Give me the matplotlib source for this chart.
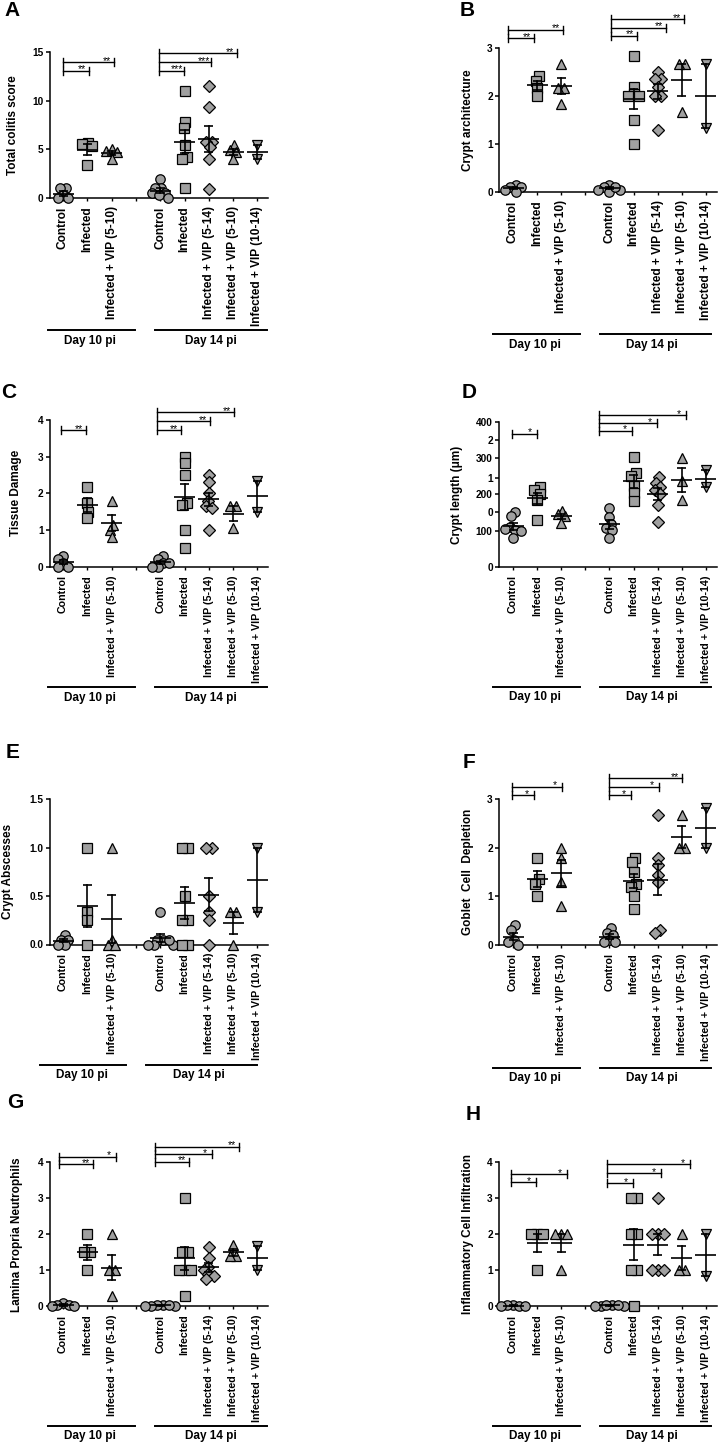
import numpy as np
import matplotlib
matplotlib.use("Agg")
import matplotlib.pyplot as plt
from matplotlib.lines import Line2D

plt.rcParams['font.family'] = ['Liberation Sans', 'DejaVu Sans']
plt.rcParams['font.weight'] = 'bold'

# ---------------- data ----------------
categories = ["Control", "Infected", "Infected + VIP (5-10)", "",
              "Control", "Infected", "Infected + VIP (5-14)",
              "Infected + VIP (5-10)", "Infected + VIP (10-14)"]
day_labels = ["Day 10 pi", "Day 14 pi"]
group_positions = [0, 1, 2, 4, 5, 6, 7, 8]
group_markers = ["o", "s", "^", "o", "s", "D", "^", "v"]

# A  Total colitis score
colitis_score = [
    [1.0, 1.0, 0.3, 0.0, 0.0],
    [5.7, 5.5, 5.3, 3.4],
    [5.0, 4.8, 4.7, 4.0],
    [2.0, 1.0, 1.0, 0.5, 0.5, 0.3, 0.0],
    [11.0, 7.8, 7.2, 5.4, 4.2, 4.0, 1.0],
    [11.5, 9.3, 5.8, 5.8, 5.2, 4.0, 0.9],
    [5.4, 4.9, 4.7, 4.0],
    [5.4, 4.0],
]
colitis_sig = [(0.0, 1.07, 13.08, "**"), (0.0, 2.1, 13.94, "**"),
               (3.95, 4.98, 13.08, "***"), (3.95, 6.09, 13.94, "***"),
               (3.95, 7.15, 14.87, "**")]

# B  Crypt architecture
crypt_arch = [
    [0.15, 0.1, 0.1, 0.05, 0.0],
    [2.42, 2.31, 2.16, 2.0],
    [2.66, 2.16, 2.16, 1.83],
    [0.15, 0.1, 0.05, 0.05, 0.0, 0.1],
    [2.83, 2.18, 2.04, 2.0, 2.0, 1.5, 1.0],
    [2.5, 2.35, 2.35, 2.18, 2.0, 2.0, 1.3],
    [2.67, 2.67, 1.67],
    [2.67, 1.33],
]
crypt_arch_sig = [(-0.22, 0.88, 3.2, "**"), (-0.22, 2.06, 3.375, "**"),
                  (4.05, 5.16, 3.25, "**"), (4.05, 6.34, 3.42, "**"),
                  (4.05, 7.1, 3.6, "**")]

# C  Tissue damage
tissue_damage = [
    [0.3, 0.2, 0.1, 0.0, 0.0],
    [2.18, 1.74, 1.48, 1.32],
    [1.8, 1.15, 1.0, 0.8],
    [0.3, 0.2, 0.1, 0.0, 0.0, 0.1],
    [3.0, 2.83, 2.5, 1.74, 1.68, 1.0, 0.5],
    [2.5, 2.3, 2.0, 1.8, 1.65, 1.6, 1.0],
    [1.65, 1.65, 1.05],
    [2.33, 1.5],
]
tissue_damage_sig = [(-0.08, 0.95, 3.72, "**"),
                     (3.86, 4.86, 3.72, "**"), (3.86, 6.05, 3.97, "**"),
                     (3.86, 7.05, 4.21, "**")]

# D  Crypt length
crypt_length = [
    [152, 141, 111, 102, 100, 79, 105],
    [220, 212, 200, 185, 130],
    [155, 145, 140, 120],
    [164, 137, 118, 107, 102, 79],
    [303, 260, 250, 223, 203, 182],
    [247, 233, 221, 212, 201, 171, 125],
    [300, 237, 185],
    [268, 220],
]
crypt_length_sig = [(-0.05, 0.98, 367, "*"),
                    (3.58, 4.94, 375, "*"), (3.58, 5.98, 397, "*"),
                    (3.58, 7.18, 419, "*")]
crypt_length_ticks = [0, 100, 152, 200, 246, 300, 350, 400]
crypt_length_ticklabels = ["0", "100", "0", "200", "1", "300", "2", "400"]

# E  Crypt abscesses
crypt_abscess = [
    [0.1, 0.05, 0.05, 0.0, 0.0],
    [1.0, 0.33, 0.25, 0.0],
    [1.0, 0.05, 0.0, 0.0],
    [0.33, 0.05, 0.05, 0.0, 0.0, 0.0, 0.05],
    [1.0, 1.0, 0.5, 0.25, 0.25, 0.0, 0.0],
    [1.0, 1.0, 0.5, 0.33, 0.25, 0.0],
    [0.33, 0.33, 0.0],
    [1.0, 0.33],
]

# F  Goblet cell depletion
goblet_depletion = [
    [0.4, 0.3, 0.1, 0.05, 0.0],
    [1.8, 1.35, 1.25, 1.0],
    [2.0, 1.8, 1.3, 0.8],
    [0.35, 0.25, 0.2, 0.1, 0.05, 0.05],
    [1.8, 1.7, 1.5, 1.25, 1.2, 1.0, 0.75],
    [2.67, 1.8, 1.65, 1.45, 1.3, 0.3, 0.25],
    [2.67, 2.0, 2.0],
    [2.83, 2.0],
]
goblet_sig = [(-0.04, 0.87, 3.08, "*"), (-0.04, 2.03, 3.26, "*"),
              (3.98, 4.9, 3.08, "*"), (3.98, 6.06, 3.26, "*"),
              (3.98, 7.0, 3.43, "**")]

# G  Lamina propria neutrophils
lp_neutrophils = [
    [0.1, 0.05, 0.05, 0.0, 0.0],
    [2.0, 1.5, 1.5, 1.0],
    [2.0, 1.0, 1.0, 0.3],
    [0.05, 0.05, 0.0, 0.0, 0.0, 0.05],
    [3.0, 1.5, 1.5, 1.0, 1.0, 1.0, 0.3],
    [1.65, 1.35, 1.1, 1.0, 0.9, 0.85, 0.75],
    [1.7, 1.4, 1.4],
    [1.67, 1.0],
]
lp_sig = [(-0.16, 1.25, 3.95, "**"), (-0.16, 2.18, 4.15, "*"),
          (3.79, 5.2, 4.02, "**"), (3.79, 6.14, 4.22, "*"),
          (3.79, 7.24, 4.43, "**")]

# H  Inflammatory cell infiltration
infl_infiltration = [
    [0.05, 0.0, 0.05, 0.0, 0.0],
    [2.0, 2.0, 2.0, 1.0],
    [2.0, 2.0, 2.0, 1.0],
    [0.05, 0.0, 0.05, 0.0, 0.0, 0.05],
    [3.0, 3.0, 2.0, 2.0, 1.0, 1.0, 0.0],
    [3.0, 2.0, 2.0, 2.0, 1.0, 1.0, 1.0],
    [2.0, 1.0, 1.0],
    [2.0, 0.85],
]
infl_sig = [(-0.08, 0.95, 3.44, "*"), (-0.08, 2.24, 3.67, "*"),
            (3.9, 4.98, 3.42, "*"), (3.9, 6.14, 3.69, "*"),
            (3.9, 7.34, 3.94, "*")]

# ---------------- layout ----------------
W, H = 720, 1446
fig = plt.figure(figsize=(W / 100, H / 100), dpi=100)

FILL = "#a0a0a0"
LEFT_COL = dict(left=50, right=268, pos0=63, spacing=24.3,
                lines=((48, 135), (155, 267)), textx=(90, 211))
RIGHT_COL = dict(left=499, right=717, pos0=513, spacing=24.1,
                 lines=((493, 580), (600, 711)), textx=(535, 652))


def swarm(ypx, d):
    n = len(ypx)
    xs = np.zeros(n)
    order = np.argsort(-ypx, kind="stable")
    placed = []
    for i in order:
        y = ypx[i]
        cands = [0.0]
        for j in placed:
            dy = abs(ypx[j] - y)
            if dy < d:
                dx = np.sqrt(d * d - dy * dy)
                cands += [xs[j] + dx, xs[j] - dx]
        cands.sort(key=lambda c: (abs(c), c))
        for c in cands:
            if all((xs[j] - c) ** 2 + (ypx[j] - y) ** 2 >= d * d - 1e-6 for j in placed):
                xs[i] = c
                break
        placed.append(i)
    idx = np.argsort(ypx)
    clusters, cur = [], [idx[0]]
    for a, b in zip(idx[:-1], idx[1:]):
        if abs(ypx[b] - ypx[a]) < d:
            cur.append(b)
        else:
            clusters.append(cur)
            cur = [b]
    clusters.append(cur)
    for cl in clusters:
        cx = (xs[cl].max() + xs[cl].min()) / 2
        xs[cl] -= cx
    return xs


def draw_panel(letter, letter_xy, col, top, bottom, ymax, values, sig,
               ylabel, ylabel_x, yticks, yticklabels, xfs, line_y, text_y,
               lines=None, textx=None):
    l, r = col["left"], col["right"]
    p0, sp = col["pos0"], col["spacing"]
    ax = fig.add_axes([l / W, 1 - bottom / H, (r - l) / W, (bottom - top) / H])
    ax.set_xlim((l - p0) / sp, (r - p0) / sp)
    ax.set_ylim(0, ymax)
    ppu = (bottom - top) / ymax
    for vals, pos, mk in zip(values, group_positions, group_markers):
        v = np.asarray(vals, float)
        offs = swarm(v * ppu, 6.0) / sp
        ms = {"o": 6.8, "s": 6.6, "^": 7.2, "v": 7.2, "D": 6.4}[mk]
        ax.plot(pos + offs, v, ls="none", marker=mk, ms=ms, mfc=FILL,
                mec="black", mew=0.9, clip_on=False, zorder=3)
        m = v.mean()
        sem = v.std(ddof=1) / np.sqrt(len(v))
        hw = 10.5 / sp
        cw = 4.5 / sp
        ax.plot([pos - hw, pos + hw], [m, m], color="black", lw=1.2,
                zorder=4, clip_on=False, solid_capstyle="butt")
        ax.plot([pos, pos], [m - sem, m + sem], color="black", lw=1.2,
                zorder=4, clip_on=False)
        for yy in (m - sem, m + sem):
            ax.plot([pos - cw, pos + cw], [yy, yy], color="black", lw=1.2,
                    zorder=4, clip_on=False, solid_capstyle="butt")
    cap = 4.0 / ppu
    for x0, x1, yy, txt in sig:
        ax.plot([x0, x1], [yy, yy], color="black", lw=1.0, clip_on=False)
        for xx in (x0, x1):
            ax.plot([xx, xx], [yy - cap, yy + cap], color="black", lw=1.0,
                    clip_on=False)
        ax.text(x1 - 7.0 / sp, yy - 1.5 / ppu, txt, ha="center", va="baseline",
                fontsize=7.5, fontweight="normal", clip_on=False)
    for s in ("top", "right"):
        ax.spines[s].set_visible(False)
    for s in ("left", "bottom"):
        ax.spines[s].set_linewidth(1.1)
    ax.spines["left"].set_bounds(0, ymax)
    ax.set_yticks(yticks)
    ax.set_yticklabels(yticklabels, fontsize=7.3, fontweight="bold")
    ax.set_xticks(range(len(categories)))
    ax.set_xticklabels(categories, rotation=90, fontsize=xfs,
                       fontweight="bold", va="top", ha="center")
    ax.tick_params(axis="y", direction="out", length=3, width=1.1, pad=1.5)
    ax.tick_params(axis="x", direction="out", length=2.5, width=1.0, pad=3.5)
    ax.patch.set_visible(False)
    fig.text(ylabel_x / W, 1 - (top + bottom) / 2 / H, ylabel, rotation=90,
             ha="center", va="center", fontsize=8.5, fontweight="bold")
    fig.text(letter_xy[0] / W, 1 - letter_xy[1] / H, letter, ha="center",
             va="center", fontsize=15, fontweight="bold")
    lines = lines or col["lines"]
    textx = textx or col["textx"]
    for (a, b), tx, lab in zip(lines, textx, day_labels):
        fig.add_artist(Line2D([a / W, b / W], [1 - line_y / H, 1 - line_y / H],
                              color="black", lw=1.4, transform=fig.transFigure))
        fig.text(tx / W, 1 - text_y / H, lab, ha="center", va="center",
                 fontsize=8.5, fontweight="bold")
    return ax


draw_panel("A", (12, 11), LEFT_COL, 52, 198, 15, colitis_score, colitis_sig,
           "Total colitis score", 13, [0, 5, 10, 15], ["0", "5", "10", "15"],
           8.6, 330, 341)
draw_panel("B", (467, 11), RIGHT_COL, 48, 192, 3, crypt_arch, crypt_arch_sig,
           "Crypt architecture", 468, [0, 1, 2, 3], ["0", "1", "2", "3"],
           8.6, 334, 345)
draw_panel("C", (9, 393), LEFT_COL, 420, 566.7, 4, tissue_damage,
           tissue_damage_sig, "Tissue Damage", 16, [0, 1, 2, 3, 4],
           ["0", "1", "2", "3", "4"], 7.7, 687, 698)
draw_panel("D", (469, 392), RIGHT_COL, 422, 567, 400, crypt_length,
           crypt_length_sig, "Crypt length (\u03bcm)", 457, crypt_length_ticks,
           crypt_length_ticklabels, 7.7, 687, 697)
draw_panel("E", (13, 753), LEFT_COL, 799, 944.5, 1.5, crypt_abscess, [],
           "Crypt Abscesses", 8, [0, 0.5, 1.0, 1.5], ["0.0", "0.5", "1.0", "1.5"],
           7.7, 1065, 1075, lines=((40, 126), (146, 257)), textx=(82, 199))
draw_panel("F", (469, 763), RIGHT_COL, 799.3, 944.9, 3, goblet_depletion,
           goblet_sig, "Goblet  Cell  Depletion", 468, [0, 1, 2, 3],
           ["0", "1", "2", "3"], 7.7, 1068, 1078)
draw_panel("G", (15, 1103), LEFT_COL, 1162.3, 1306.3, 4, lp_neutrophils, lp_sig,
           "Lamina Propria Neutrophils", 17, [0, 1, 2, 3, 4],
           ["0", "1", "2", "3", "4"], 7.7, 1426, 1436)
draw_panel("H", (473, 1114), RIGHT_COL, 1162.3, 1306.3, 4, infl_infiltration,
           infl_sig, "Inflammatory Cell Infiltration", 468, [0, 1, 2, 3, 4],
           ["0", "1", "2", "3", "4"], 7.7, 1426, 1436)

fig.savefig("out.png", dpi=100)
